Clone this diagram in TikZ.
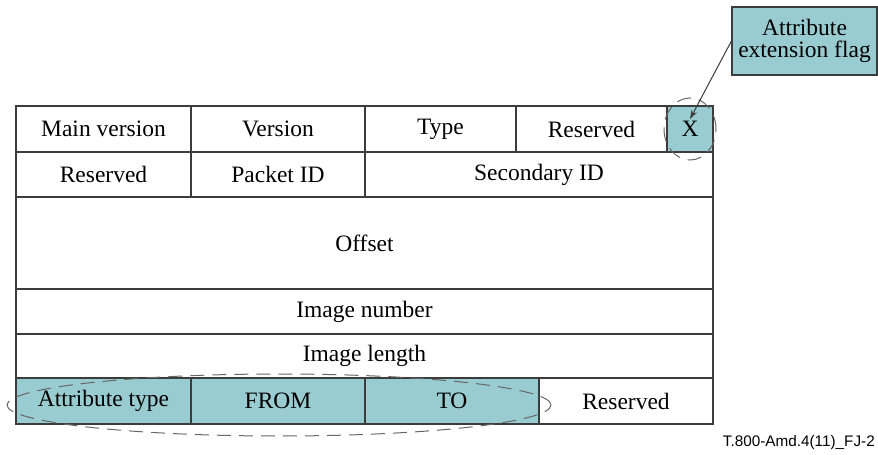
\documentclass[tikz,border=0pt]{standalone}
\usepackage{fontspec}
\setmainfont{Liberation Serif}
\newfontfamily\footfont{Liberation Sans}
\usetikzlibrary{shapes.geometric,arrows.meta}
\definecolor{teal1}{RGB}{153,204,208}
\definecolor{lin}{RGB}{60,60,60}
\tikzset{
  cell/.style={draw=lin, line width=1.2pt, inner sep=0pt, font=\fontsize{23.5}{28}\selectfont},
  hl/.style={cell, fill=teal1},
  grp/.style={draw=black!60, line width=1pt, dash pattern=on 14pt off 8pt, ellipse, inner sep=0pt},
}
\begin{document}
\begin{tikzpicture}[x=1pt,y=-1pt]
\useasboundingbox (0,0) rectangle (878,455);
% row 1
\node[cell, minimum width=175pt, minimum height=46pt] (mv) at (103.5,129) {Main version};
\node[cell, minimum width=174pt, minimum height=46pt] (ver) at (278,129) {Version};
\node[cell, minimum width=151pt, minimum height=46pt] (typ) at (440.5,129) {Type};
\node[cell, minimum width=151pt, minimum height=46pt] (res1) at (591.5,129) {Reserved};
\node[hl, minimum width=46pt, minimum height=46pt] (xc) at (690,129) {X};
% row 2
\node[cell, minimum width=175pt, minimum height=45pt] (res2) at (103.5,174.5) {Reserved};
\node[cell, minimum width=174pt, minimum height=45pt] (pid) at (278,174.5) {Packet ID};
\node[cell, minimum width=348pt, minimum height=45pt] (sid) at (539,174.5) {Secondary ID};
% rows 3-5
\node[cell, minimum width=697pt, minimum height=92pt] (off) at (364.5,243) {Offset};
\node[cell, minimum width=697pt, minimum height=45pt] (inum) at (364.5,311.5) {Image number};
\node[cell, minimum width=697pt, minimum height=44pt] (ilen) at (364.5,356) {Image length};
% row 6
\node[hl, minimum width=175pt, minimum height=46pt] (at) at (103.5,401) {Attribute type};
\node[hl, minimum width=174pt, minimum height=46pt] (from) at (278,401) {FROM};
\node[hl, minimum width=174pt, minimum height=46pt] (to) at (452,401) {TO};
\node[cell, minimum width=174pt, minimum height=46pt] (res3) at (626,401) {Reserved};
% dashed groupings
\node[grp, minimum width=52pt, minimum height=62pt] (xring) at (690,129) {};
\node[grp, minimum width=544pt, minimum height=62pt] (atring) at (279,405) {};
% callout
\node[hl, minimum width=145pt, minimum height=68pt, align=center, font=\fontsize{23.5}{22}\selectfont] (attr) at (804.5,41) {Attribute\\extension flag};
\coordinate (xtip) at (690,119);
\draw[lin, line width=1pt, -{Stealth[length=9pt,width=6pt]}] (attr.west) -- (xtip);
% footer
\node[anchor=base east, inner sep=0pt, font=\footfont\fontsize{15.3}{18}\selectfont] (foot) at (875,446) {T.800-Amd.4(11)\_FJ-2};
\end{tikzpicture}
\end{document}
